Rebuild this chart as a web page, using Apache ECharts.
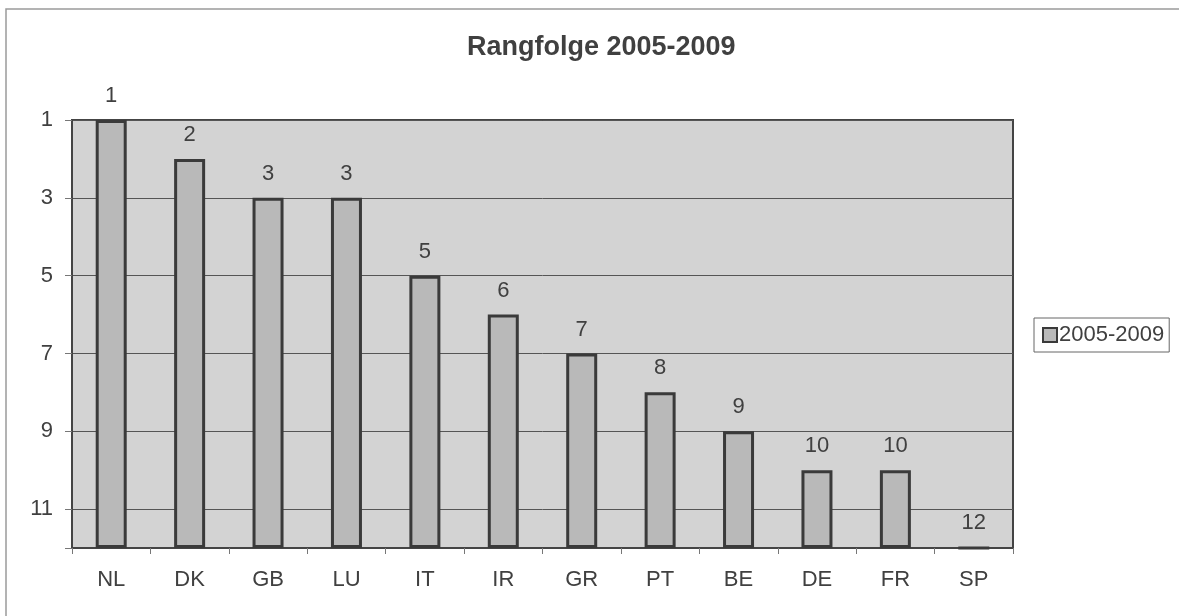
<!DOCTYPE html>
<html>
<head>
<meta charset="utf-8">
<script src="https://cdn.jsdelivr.net/npm/echarts@6/dist/echarts.min.js"></script>
<style>
  html, body { margin: 0; padding: 0; background: #fff; }
  #chart { width: 1179px; height: 616px; }
</style>
</head>
<body>
<div id="chart"></div>
<script>
var countries = ['NL', 'DK', 'GB', 'LU', 'IT', 'IR', 'GR', 'PT', 'BE', 'DE', 'FR', 'SP'];
var ranks = [1, 2, 3, 3, 5, 6, 7, 8, 9, 10, 10, 12];
var lastRank = 12;
var yTicks = [1, 3, 5, 7, 9, 11];

// bars hang from the bottom (rank 12) up to the rank, so stack on a hidden base
var baseVals = ranks.map(function (r) { return r; });
var barVals = ranks.map(function (r) { return lastRank - r; });

var textColor = '#404040';
var font = '"Liberation Sans", Arial, sans-serif';

var myChart = echarts.init(document.getElementById('chart'));
var option = {
  backgroundColor: '#fff',
  animation: false,
  title: {
    text: 'Rangfolge 2005-2009',
    left: 462,
    top: 29,
    textStyle: { fontSize: 27, fontWeight: 'bold', color: textColor, fontFamily: font }
  },
  legend: {
    data: ['2005-2009'],
    orient: 'vertical',
    left: 1034,
    top: 318,
    padding: [6, 5, 6, 8],
    borderColor: '#666',
    borderWidth: 1,
    itemWidth: 14,
    itemHeight: 14,
    itemGap: 0,
    icon: 'rect',
    textStyle: { fontSize: 22, color: textColor, fontFamily: font, padding: [0, 0, 0, -3] }
  },
  graphic: [{
    type: 'rect',
    shape: { x: 6, y: 9, width: 1300, height: 800 },
    style: { fill: 'none', stroke: '#9a9a9a', lineWidth: 1.5 },
    silent: true
  }],
  grid: {
    left: 72,
    top: 120,
    right: 166,
    bottom: 68,
    show: true,
    backgroundColor: '#d3d3d3',
    borderColor: '#444',
    borderWidth: 2
  },
  xAxis: {
    type: 'category',
    data: countries,
    axisLine: { lineStyle: { color: '#444', width: 2 } },
    axisTick: { show: true, length: 6, lineStyle: { color: '#777', width: 1 } },
    axisLabel: { fontSize: 22, color: textColor, fontFamily: font, margin: 21 }
  },
  yAxis: {
    type: 'value',
    inverse: true,
    min: 1,
    max: lastRank,
    interval: 2,
    axisLine: { show: true, lineStyle: { color: '#444', width: 2 } },
    axisTick: { show: true, length: 7, lineStyle: { color: '#777', width: 1 } },
    axisLabel: {
      fontSize: 22, color: textColor, fontFamily: font, margin: 19,
      formatter: function (v) { return yTicks.indexOf(v) >= 0 ? String(v) : ''; }
    },
    splitLine: { show: true, lineStyle: { color: '#555', width: 1 } }
  },
  series: [
    {
      name: 'base',
      type: 'bar',
      stack: 'rank',
      data: baseVals,
      barWidth: 31,
      itemStyle: { color: 'transparent' },
      silent: true
    },
    {
      name: '2005-2009',
      type: 'bar',
      stack: 'rank',
      data: barVals,
      barWidth: 31,
      itemStyle: { color: '#b9b9b9', borderColor: '#3a3a3a', borderWidth: 3 },
      label: {
        show: true,
        position: 'top',
        distance: 13,
        fontSize: 22,
        color: textColor,
        fontFamily: font,
        formatter: function (p) { return String(ranks[p.dataIndex]); }
      }
    }
  ]
};

myChart.setOption(option);
</script>
</body>
</html>
